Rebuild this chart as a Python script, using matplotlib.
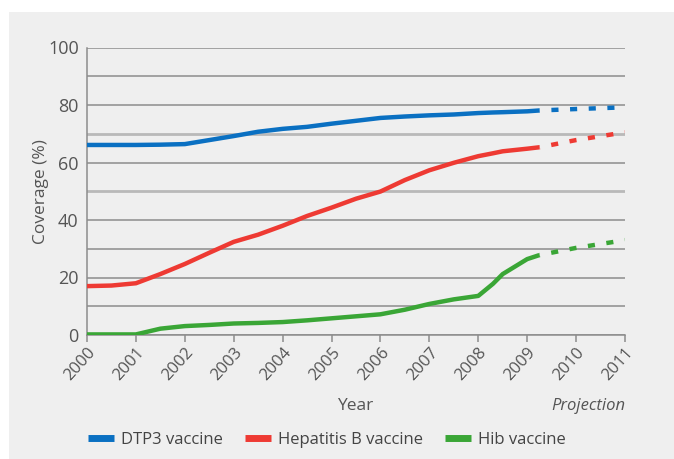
import numpy as np
import matplotlib
matplotlib.use("Agg")
import matplotlib.pyplot as plt
from matplotlib.patches import Rectangle

plt.rcParams['font.family'] = ['Open Sans', 'DejaVu Sans']

# readings (years, coverage %)
years = [2000, 2000.5, 2001, 2001.5, 2002, 2002.5, 2003, 2003.5, 2004, 2004.5,
         2005, 2005.5, 2006, 2006.5, 2007, 2007.5, 2008, 2008.3, 2008.5, 2009, 2009.25]
dtp3 = [66.1, 66.1, 66.1, 66.2, 66.4, 67.8, 69.2, 70.7, 71.7, 72.4,
        73.5, 74.5, 75.5, 76.0, 76.4, 76.7, 77.2, 77.4, 77.5, 77.8, 78.1]
hepb = [17.0, 17.2, 18.0, 21.2, 24.7, 28.6, 32.4, 34.9, 38.0, 41.4,
        44.3, 47.4, 49.9, 53.9, 57.3, 59.9, 62.2, 63.2, 63.9, 64.8, 65.3]
hib = [0.2, 0.2, 0.2, 2.2, 3.1, 3.5, 4.0, 4.2, 4.5, 5.1,
       5.8, 6.5, 7.2, 8.8, 10.8, 12.4, 13.6, 17.8, 21.2, 26.4, 27.8]

proj_years = [2009.25, 2010, 2011]
dtp3_proj = [78.1, 78.6, 79.2]
hepb_proj = [65.3, 67.8, 70.5]
hib_proj = [27.8, 30.3, 33.0]

year_ticks = list(range(2000, 2012))
y_ticks = [0, 20, 40, 60, 80, 100]
grid_vals = [0, 10, 20, 30, 40, 50, 60, 70, 80, 90, 100]
light_grid = [50, 70]

names = ['DTP3 vaccine', 'Hepatitis B vaccine', 'Hib vaccine']
colors = ['#0a70c2', '#ee3a33', '#3aa636']

fig = plt.figure(figsize=(6.74, 4.59), dpi=100)
fig.patch.set_facecolor('white')
fig.patches.append(Rectangle((9 / 674, 0), 1, 1 - 12 / 459, transform=fig.transFigure,
                             facecolor='#efefef', edgecolor='none', zorder=-10))

ax = fig.add_axes([87 / 674, 1 - 335 / 459, (625 - 87) / 674, (335 - 47.5) / 459])
ax.set_facecolor('none')

for g in grid_vals:
    if g in light_grid:
        ax.axhline(g, color='#b9b9b9', lw=2.0, zorder=1)
    else:
        ax.axhline(g, color='#8c8c8c', lw=1.1, zorder=1)

series = [(dtp3, dtp3_proj), (hepb, hepb_proj), (hib, hib_proj)]
for (vals, proj), c, n in zip(series, colors, names):
    ax.plot(years, vals, color=c, lw=3.2, solid_capstyle='butt', solid_joinstyle='round',
            label=n, zorder=3)
    ax.plot(proj_years, proj, color=c, lw=3.2, linestyle=(1.5, (1.6, 2.6)),
            dash_capstyle='butt', zorder=3)

ax.set_xlim(2000, 2011)
ax.set_ylim(0, 100)
ax.set_xticks(year_ticks)
ax.set_xticklabels([str(y) for y in year_ticks], rotation=48, ha='right',
                   rotation_mode='anchor', fontsize=12, color='#555555')
ax.set_yticks(y_ticks)
ax.set_yticklabels([str(v) for v in y_ticks], fontsize=13, color='#555555')
ax.tick_params(axis='y', length=0, pad=6)
ax.tick_params(axis='x', length=5, color='#8c8c8c', width=1.1, pad=2)

for s in ['top', 'right']:
    ax.spines[s].set_visible(False)
for s in ['left', 'bottom']:
    ax.spines[s].set_color('#8c8c8c')
    ax.spines[s].set_linewidth(1.1)

ax.set_ylabel('Coverage (%)', fontsize=12.5, color='#555555', labelpad=-1)
fig.text(355 / 674, 1 - 406 / 459, 'Year', ha='center', va='center',
         fontsize=12.5, color='#555555')
fig.text(625 / 674, 1 - 406 / 459, 'Projection', ha='right', va='center',
         fontsize=12, color='#555555', style='italic')

leg = fig.legend(loc='center left', bbox_to_anchor=(88 / 674, 1 - 440 / 459), ncol=3,
                 frameon=False, fontsize=12, handlelength=1.55, handletextpad=0.45,
                 columnspacing=1.3, labelcolor='#444444', borderpad=0, borderaxespad=0)
for h in leg.legend_handles:
    h.set_linewidth(5)

fig.savefig('out.png', dpi=100, facecolor=fig.get_facecolor())
